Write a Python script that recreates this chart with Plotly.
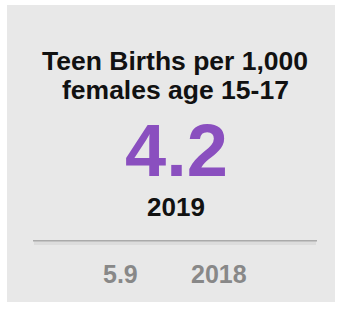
import plotly.graph_objects as go

title_lines = ["Teen Births per 1,000", "females age 15-17"]
current_value = 4.2
current_year = "2019"
previous_value = 5.9
previous_year = "2018"

W, H = 338, 309

def px(x):
    return x / W

def py(y):
    return 1 - y / H

FONT = "Liberation Sans, Arial, Helvetica, sans-serif"

fig = go.Figure()

annotations = []
for y, line in zip([60.5, 90.0], title_lines):
    annotations.append(dict(x=px(175), y=py(y), text=line, showarrow=False,
                            xref="paper", yref="paper", xanchor="center", yanchor="middle",
                            font=dict(family=FONT, size=26.5, color="#111111", weight="bold")))
annotations.append(dict(x=px(176), y=py(150), text=f"{current_value:.1f}", showarrow=False,
                        xref="paper", yref="paper", xanchor="center", yanchor="middle",
                        font=dict(family=FONT, size=74, color="#8A4FBF", weight="bold")))
annotations.append(dict(x=px(175.5), y=py(207), text=current_year, showarrow=False,
                        xref="paper", yref="paper", xanchor="center", yanchor="middle",
                        font=dict(family=FONT, size=26, color="#111111", weight="bold")))
annotations.append(dict(x=px(120.4), y=py(274), text=f"{previous_value:.1f}", showarrow=False,
                        xref="paper", yref="paper", xanchor="center", yanchor="middle",
                        font=dict(family=FONT, size=25, color="#888888", weight="bold")))
annotations.append(dict(x=px(218.7), y=py(274), text=previous_year, showarrow=False,
                        xref="paper", yref="paper", xanchor="center", yanchor="middle",
                        font=dict(family=FONT, size=25, color="#888888", weight="bold")))

shapes = [
    dict(type="rect", xref="paper", yref="paper", x0=px(7), x1=px(335), y0=py(302), y1=py(5),
         fillcolor="#E8E8E8", line=dict(width=0), layer="below"),
    dict(type="line", xref="paper", yref="paper", x0=px(34), x1=px(316), y0=py(243), y1=py(243),
         line=dict(color="rgba(0,0,0,0.05)", width=4)),
    dict(type="line", xref="paper", yref="paper", x0=px(33), x1=px(317), y0=py(240.7), y1=py(240.7),
         line=dict(color="#AAAAAA", width=1.6)),
]

fig.update_layout(
    width=W, height=H,
    margin=dict(l=0, r=0, t=0, b=0),
    paper_bgcolor="white", plot_bgcolor="rgba(0,0,0,0)",
    xaxis=dict(visible=False, range=[0, 1]),
    yaxis=dict(visible=False, range=[0, 1]),
    annotations=annotations,
    shapes=shapes,
    showlegend=False,
)

fig.write_html("out.html", config={"displayModeBar": False},
               post_script="document.body.style.margin='0';document.body.style.overflow='hidden';")
